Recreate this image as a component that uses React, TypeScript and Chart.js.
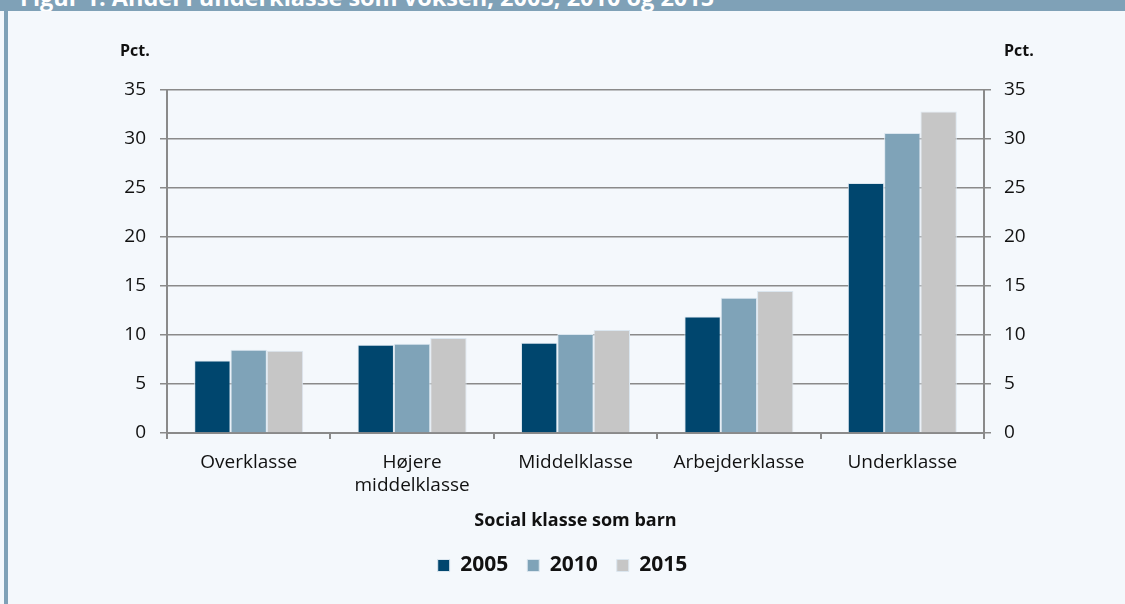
import React, { useEffect, useRef } from "react";
import { Chart, registerables } from "chart.js";

Chart.register(...registerables);

const categories: (string | string[])[] = [
  "Overklasse",
  ["Højere", "middelklasse"],
  "Middelklasse",
  "Arbejderklasse",
  "Underklasse",
];
const values2005 = [7.4, 9.0, 9.2, 11.9, 25.5];
const values2010 = [8.5, 9.1, 10.1, 13.8, 30.6];
const values2015 = [8.4, 9.7, 10.5, 14.5, 32.8];
const seriesLabels = ["2005", "2010", "2015"];
const seriesColors = ["#00466e", "#7fa3b8", "#c6c6c6"];
const yMin = 0;
const yMax = 35;
const yStep = 5;

const titleText = "Figur 1. Andel i underklasse som voksen, 2005, 2010 og 2015";
const xTitle = "Social klasse som barn";
const yUnit = "Pct.";

const FONT = "'Open Sans', 'Noto Sans', sans-serif";
const GRID = "#8a8a8a";

export default function App() {
  const canvasRef = useRef<HTMLCanvasElement | null>(null);

  useEffect(() => {
    document.body.style.margin = "0";
    const canvas = canvasRef.current;
    if (!canvas) return;
    const chart = new Chart(canvas, {
      type: "bar",
      data: {
        labels: categories,
        datasets: [values2005, values2010, values2015].map((d, i) => ({
          label: seriesLabels[i],
          data: d,
          backgroundColor: seriesColors[i],
          borderColor: "#dbe6ef",
          borderWidth: 1,
          categoryPercentage: 0.667,
          barPercentage: 1.0,
          yAxisID: "y",
        })),
      },
      options: {
        responsive: false,
        animation: false,
        devicePixelRatio: 1,
        layout: { padding: { top: 90, left: 0, right: 0, bottom: 18 } },
        plugins: {
          tooltip: { enabled: false },
          legend: {
            position: "bottom",
            labels: {
              boxWidth: 12,
              boxHeight: 12,
              padding: 19,
              color: "#111",
              font: { family: FONT, size: 21, weight: "bold" },
            },
          },
        },
        scales: {
          x: {
            afterFit: (s: any) => {
              s.height = 103;
            },
            grid: {
              drawOnChartArea: false,
              drawTicks: true,
              tickLength: 6,
              color: GRID,
              lineWidth: 2,
              offset: true,
            },
            border: { color: GRID, width: 2 },
            ticks: {
              color: "#111",
              padding: 12,
              maxRotation: 0,
              autoSkip: false,
              font: { family: FONT, size: 19 },
            },
            title: {
              display: true,
              text: xTitle,
              color: "#111",
              padding: { top: 0, bottom: 4 },
              font: { family: FONT, size: 18, weight: "bold" },
            },
          },
          y: {
            position: "left",
            min: yMin,
            max: yMax,
            afterFit: (s: any) => {
              s.width = 167;
            },
            grid: {
              drawOnChartArea: true,
              tickLength: 7,
              color: GRID,
              lineWidth: 1.5,
            },
            border: { color: GRID, width: 2 },
            ticks: {
              stepSize: yStep,
              color: "#111",
              padding: 14,
              font: { family: FONT, size: 19 },
            },
          },
          y2: {
            position: "right",
            min: yMin,
            max: yMax,
            afterFit: (s: any) => {
              s.width = 141;
            },
            grid: {
              drawOnChartArea: false,
              tickLength: 7,
              color: GRID,
              lineWidth: 1.5,
            },
            border: { color: GRID, width: 2 },
            ticks: {
              stepSize: yStep,
              color: "#111",
              padding: 13,
              font: { family: FONT, size: 19 },
            },
          },
        },
      },
    });
    return () => chart.destroy();
  }, []);

  return (
    <div
      style={{
        position: "fixed",
        left: 0,
        top: 0,
        width: 1125,
        height: 604,
        background: "#f4f8fc",
        overflow: "hidden",
      }}
    >
      <div
        style={{
          position: "absolute",
          left: 0,
          top: 0,
          width: 1125,
          height: 11,
          background: "#7fa1b7",
          overflow: "hidden",
        }}
      >
        <span
          style={{
            position: "absolute",
            left: 20,
            top: -15,
            fontFamily: FONT,
            fontWeight: "bold",
            fontSize: 23.5,
            lineHeight: "24px",
            color: "#ffffff",
            whiteSpace: "nowrap",
          }}
        >
          {titleText}
        </span>
      </div>
      <div
        style={{
          position: "absolute",
          left: 4,
          top: 11,
          width: 4,
          height: 593,
          background: "#7fa1b7",
        }}
      />
      <canvas
        ref={canvasRef}
        width={1125}
        height={604}
        style={{ position: "absolute", left: 0, top: 0, width: 1125, height: 604 }}
      />
      <div
        style={{
          position: "absolute",
          left: 120,
          top: 39,
          fontFamily: FONT,
          fontWeight: "bold",
          fontSize: 16,
          lineHeight: "22px",
          color: "#111",
        }}
      >
        {yUnit}
      </div>
      <div
        style={{
          position: "absolute",
          left: 1004,
          top: 39,
          fontFamily: FONT,
          fontWeight: "bold",
          fontSize: 16,
          lineHeight: "22px",
          color: "#111",
        }}
      >
        {yUnit}
      </div>
    </div>
  );
}
